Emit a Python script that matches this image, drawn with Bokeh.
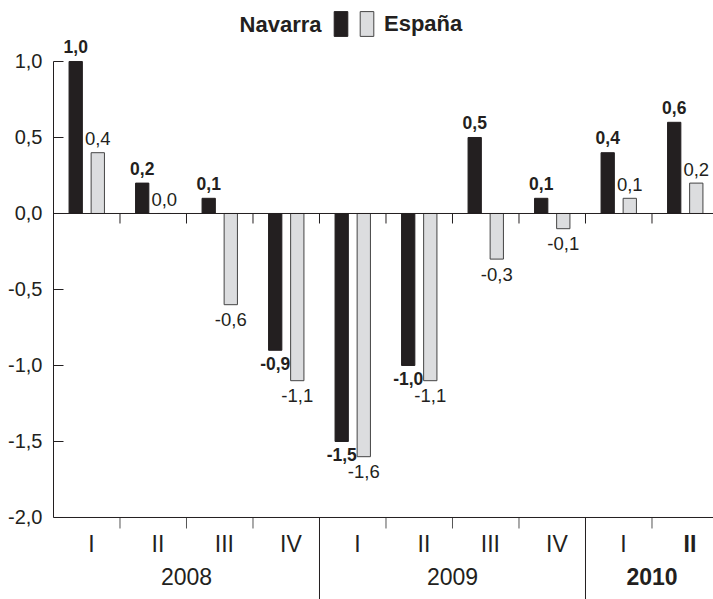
from math import pi
from bokeh.plotting import figure
from bokeh.models import (Range1d, FixedTicker, CustomJSTickFormatter, Span,
                          Legend, LegendItem, Label, ColumnDataSource)
from bokeh.core.properties import value
from bokeh.embed import file_html
from bokeh.resources import INLINE

# ---- data ----
quarters = ["I", "II", "III", "IV", "I", "II", "III", "IV", "I", "II"]
years = ["2008", "2009", "2010"]
quarters_per_year = [4, 4, 2]
navarra = [1.0, 0.2, 0.1, -0.9, -1.5, -1.0, 0.5, 0.1, 0.4, 0.6]
espana = [0.4, 0.0, -0.6, -1.1, -1.6, -1.1, -0.3, -0.1, 0.1, 0.2]
y_ticks = [-2.0, -1.5, -1.0, -0.5, 0.0, 0.5, 1.0]

INK = "#231f20"
GRAY = "#dcdddf"
FONT = "Liberation Sans"

n = len(quarters)
centers = [i + 0.5 for i in range(n)]
OFF = 0.166
BW = 0.2
x_nav = [c - OFF for c in centers]
x_esp = [c + OFF for c in centers]


def fmt(v):
    return f"{v:.1f}".replace(".", ",")


starts = [sum(quarters_per_year[:k]) for k in range(len(years))]
year_bounds = starts[1:]
all_bounds = list(range(1, n))
inner_bounds = [b for b in all_bounds if b not in year_bounds]

p = figure(width=713, height=599,
           x_range=Range1d(0, 9.925), y_range=Range1d(-2.5395, 1.4013),
           x_axis_location=None, y_axis_location="left",
           toolbar_location=None, output_backend="svg",
           min_border_left=53, min_border_right=0,
           min_border_top=0, min_border_bottom=0,
           outline_line_color=None)
p.grid.visible = False

# bars
nav_src = ColumnDataSource(dict(
    x=x_nav, top=navarra, text=[fmt(v) for v in navarra],
    yoff=[-15 if v >= 0 else 13 for v in navarra]))
esp_src = ColumnDataSource(dict(
    x=x_esp, top=espana, text=[fmt(v) for v in espana],
    yoff=[-14 if v >= 0 else 15 for v in espana]))

nav_r = p.vbar(x="x", top="top", bottom=0, width=BW, source=nav_src,
               fill_color=INK, line_color=INK, line_width=1)
esp_r = p.vbar(x="x", top="top", bottom=0, width=BW, source=esp_src,
               fill_color=GRAY, line_color="#444444", line_width=1)

# zero line and x axis line
p.add_layout(Span(location=0, dimension="width", line_color=INK, line_width=1))
p.add_layout(Span(location=-2, dimension="width", line_color=INK, line_width=1))

# tick marks
p.ray(x=all_bounds, y=[0] * len(all_bounds), length=10, length_units="screen",
      angle=-pi / 2, line_color=INK, line_width=1)
p.ray(x=inner_bounds, y=[-2] * len(inner_bounds), length=11, length_units="screen",
      angle=-pi / 2, line_color="#555555", line_width=1)
p.ray(x=year_bounds, y=[-2] * len(year_bounds), length=120, length_units="screen",
      angle=-pi / 2, line_color=INK, line_width=1)

# value labels
p.text(x="x", y="top", text="text", y_offset="yoff", source=nav_src,
       text_align="center", text_baseline="middle",
       text_font=value(FONT), text_font_style="bold",
       text_font_size="17.5px", text_color=INK)
p.text(x="x", y="top", text="text", y_offset="yoff", source=esp_src,
       text_align="center", text_baseline="middle",
       text_font=value(FONT), text_font_style="normal",
       text_font_size="18.5px", text_color=INK)

# quarter labels
q_src = ColumnDataSource(dict(
    x=[c + 0.07 for c in centers], y=[-2] * n, text=quarters,
    style=["bold" if i == n - 1 else "normal" for i in range(n)]))
p.text(x="x", y="y", text="text", source=q_src, y_offset=27,
       text_align="center", text_baseline="middle",
       text_font=value(FONT), text_font_style="style",
       text_font_size="23px", text_color=INK)

# year labels
y_src = ColumnDataSource(dict(
    x=[s + q / 2 for s, q in zip(starts, quarters_per_year)],
    y=[-2] * len(years), text=years,
    style=["bold" if k == len(years) - 1 else "normal" for k in range(len(years))]))
p.text(x="x", y="y", text="text", source=y_src, y_offset=59,
       text_align="center", text_baseline="middle",
       text_font=value(FONT), text_font_style="style",
       text_font_size="23px", text_color=INK)

# y axis
yax = p.yaxis[0]
yax.ticker = FixedTicker(ticks=y_ticks)
yax.bounds = (-2, 1)
yax.formatter = CustomJSTickFormatter(code="return tick.toFixed(1).replace('.', ',');")
yax.major_tick_in = 10
yax.major_tick_out = 0
yax.minor_tick_line_color = None
yax.axis_line_color = INK
yax.major_tick_line_color = INK
yax.major_label_text_font = FONT
yax.major_label_text_font_size = "20px"
yax.major_label_text_color = INK
yax.major_label_standoff = 11

# legend
legend = Legend(items=[LegendItem(label="", renderers=[nav_r]),
                       LegendItem(label="España", renderers=[esp_r])],
                orientation="horizontal", location=(279, 560),
                glyph_width=17, glyph_height=31, label_standoff=9, spacing=0,
                padding=0, margin=0, label_width=0, label_height=0,
                border_line_color=None, background_fill_alpha=0,
                label_text_font=FONT, label_text_font_style="bold",
                label_text_font_size="22px", label_text_color=INK)
p.add_layout(legend)
p.add_layout(Label(x=268, y=575, x_units="screen", y_units="screen",
                   text="Navarra", text_align="right", text_baseline="middle",
                   text_font=FONT, text_font_style="bold", text_font_size="22px",
                   text_color=INK))

open("out.html", "w").write(file_html(p, INLINE))
